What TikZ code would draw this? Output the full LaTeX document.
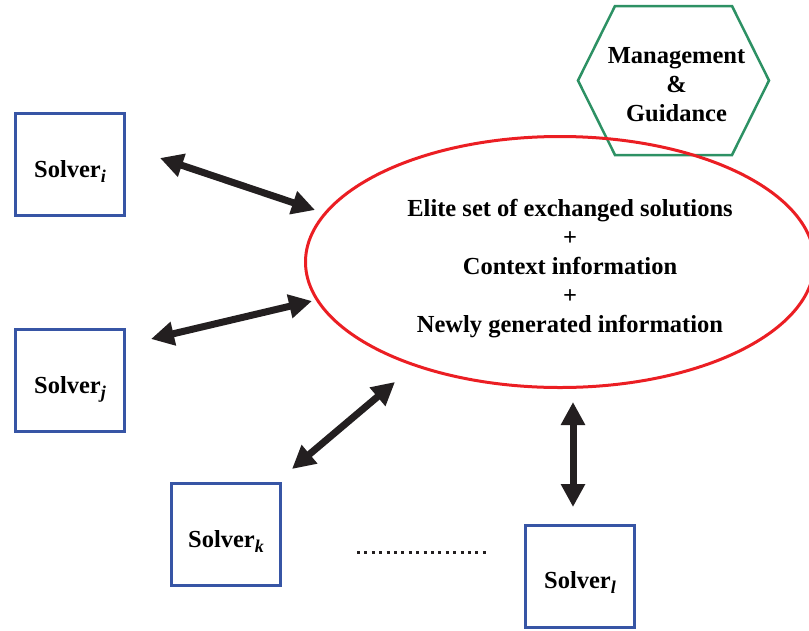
\documentclass[tikz,border=0pt]{standalone}
\usepackage{fontspec}
\setmainfont{Liberation Serif}
\usetikzlibrary{arrows.meta,shapes.geometric,calc}

\definecolor{boxblue}{RGB}{55,85,165}
\definecolor{hexgreen}{RGB}{45,145,100}
\definecolor{poolred}{RGB}{235,30,35}
\definecolor{arrowblack}{RGB}{35,31,32}

% Solver label with a bold italic index set below the baseline
\newcommand\SolverLabel[1]{Solver\raisebox{-5pt}{\fontsize{18}{18}\selectfont\bfseries\itshape #1}}

\begin{document}
\begin{tikzpicture}[x=1pt,y=-1pt,
  labelfont/.style={font=\fontsize{24.5}{29}\selectfont\bfseries},
  solverbox/.style={draw=boxblue,line width=3pt,minimum width=109pt,
    minimum height=102pt,inner sep=0pt,text height=25pt,text depth=0pt,labelfont},
  biarrow/.style={draw=arrowblack,line width=7pt,
    {Triangle[length=23pt,width=23pt]}-{Triangle[length=23pt,width=23pt]}},
  hexline/.style={draw=hexgreen,line width=2.5pt,line join=miter},
]
\useasboundingbox (0,0) rectangle (809,630);

% management hexagon
\coordinate (hex) at (673.5,80.5);
\draw[hexline] ($(hex)+(-95.5,0)$) -- ($(hex)+(-58.5,-74.5)$)
  -- ($(hex)+(58.5,-74.5)$) -- ($(hex)+(95.5,0)$)
  -- ($(hex)+(58.5,74.5)$) -- ($(hex)+(-58.5,74.5)$) -- cycle;
\node[labelfont,align=center,inner sep=0pt] (mg) at (676.5,85)
  {Management\\\&\\Guidance};

% shared information pool
\node[ellipse,draw=poolred,line width=3pt,minimum width=509pt,
  minimum height=251pt,inner sep=0pt] (pool) at (560,262) {};
\node[labelfont,align=center,inner sep=0pt] (pooltext) at (570,269)
  {Elite set of exchanged solutions\\+\\Context information\\+\\Newly generated information};

% solvers
\node[solverbox] (si) at (70,164.5) {\SolverLabel{i}};
\node[solverbox] (sj) at (70,380.5) {\SolverLabel{j}};
\node[solverbox] (sk) at (226,534.5) {\SolverLabel{k}};
\node[solverbox] (sl) at (580,576) {\SolverLabel{l}};

% exchange arrows between solvers and the pool
\coordinate (si-end) at (160,158);
\coordinate (pool-i) at (315,210);
\coordinate (sj-end) at (151,339);
\coordinate (pool-j) at (312,301);
\coordinate (sk-end) at (292,469);
\coordinate (pool-k) at (395,382);
\coordinate (pool-l) at (573,402);
\coordinate (sl-end) at (573,507);
\draw[biarrow] (si-end) -- (pool-i);
\draw[biarrow] (sj-end) -- (pool-j);
\draw[biarrow] (sk-end) -- (pool-k);
\draw[biarrow] (pool-l) -- (sl-end);

% further solvers omitted
\coordinate (dots-a) at (357,552);
\coordinate (dots-b) at (486,552);
\draw[arrowblack,line width=3pt,dash pattern=on 3pt off 4.4pt] (dots-a) -- (dots-b);
\end{tikzpicture}
\end{document}
